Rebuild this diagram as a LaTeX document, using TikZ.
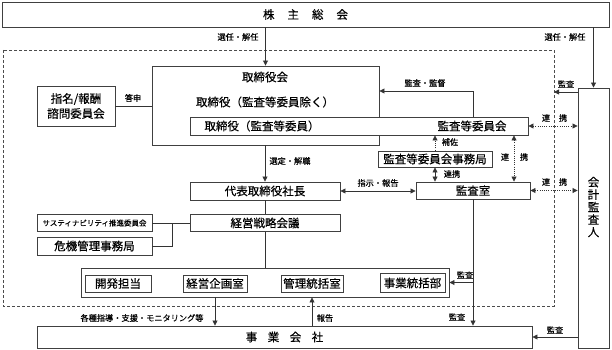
\documentclass[tikz,border=0pt]{standalone}
\usepackage{fontspec}
\setmainfont{Noto Sans CJK JP}[FakeBold=0.4]
\usetikzlibrary{arrows.meta}
\tikzset{
  box/.style={draw=black!75, line width=0.9pt, fill=white, inner sep=0pt,
    font=\fontsize{11.5}{13}\selectfont},
  sz/.style 2 args={minimum width=#1, minimum height=#2},
  txt/.style={inner sep=0pt, font=\fontsize{11.5}{13}\selectfont},
  lbl/.style={inner sep=0pt, font=\fontsize{8.2}{9}\selectfont},
  ln/.style={line width=0.8pt, draw=black!80},
  tip/.tip={Triangle[length=5pt,width=5pt]},
  arr/.style={ln, -tip},
  darr/.style={ln, tip-tip},
  dot/.style={dash pattern=on 1pt off 1.2pt},
}
\begin{document}
\begin{tikzpicture}[x=1pt,y=-1pt]
\useasboundingbox (0,0) rectangle (612,350);
% dashed frame
\draw[black!70, line width=0.7pt, dash pattern=on 3pt off 2pt] (3,50) rectangle (554,306);

% boxes
\node[box, sz={607}{25}] (kabu) at (305.5,14.5) {株\hspace{13pt}主\hspace{13pt}総\hspace{13pt}会};
\node[box, sz={227}{79}] (tori) at (265.5,105.5) {};
\node[box, sz={338}{18}] (inner) at (359,126) {};
\node[txt] (t1) at (265,77) {取締役会};
\node[txt] (t2) at (265,102) {取締役（監査等委員除く）};
\node[txt] (t3) at (262,126) {取締役（監査等委員）};
\node[txt] (t4) at (472,126) {監査等委員会};
\node[box, sz={78}{40}, align=center, font=\fontsize{11.5}{15}\selectfont] (shimei) at (76,106) {指名/報酬\\諮問委員会};
\node[box, sz={31}{260}] (kaikei) at (593.5,218) {};
\node[txt, align=center, font=\fontsize{11.5}{12.5}\selectfont] (kt) at (593.5,207) {会\\計\\監\\査\\人};
\node[box, sz={114}{16}] (jimu) at (435,159) {監査等委員会事務局};
\node[box, sz={150}{18}] (daihyo) at (265,191) {代表取締役社長};
\node[box, sz={114}{17}] (kansa) at (473,190.5) {監査室};
\node[box, sz={150}{17}] (keiei) at (265,223) {経営戦略会議};
\node[box, sz={115}{17}, font=\fontsize{7.5}{8}\selectfont] (sus) at (94.5,223) {サスティナビリティ推進委員会};
\node[box, sz={115}{18}] (kiki) at (94.5,246) {危機管理事務局};
\node[box, sz={368}{29}] (cont) at (265,282.5) {};
\node[box, sz={66}{17}] (kaihatsu) at (118,283.5) {開発担当};
\node[box, sz={64}{17}] (kikaku) at (215,283.5) {経営企画室};
\node[box, sz={62}{17}] (kanri) at (312,283.5) {管理統括室};
\node[box, sz={65}{19}] (jtokatsu) at (412.5,283) {事業統括部};
\node[box, sz={495}{22}] (jigyo) at (284.5,337) {事\hspace{10.5pt}業\hspace{10.5pt}会\hspace{10.5pt}社};

% connectors
\draw[arr] (tori.north |- kabu.south) -- (tori.north);
\node[lbl] (l1) at (238,37) {選任・解任};
\draw[arr] (kaikei.north |- kabu.south) -- (kaikei.north);
\node[lbl] (l2) at (565,37) {選任・解任};

\draw[arr] (inner.north -| kansa.north) |- ([yshift=14.5pt]tori.east);
\node[lbl] (l3) at (425,83) {監査・監督};

\draw[ln] (shimei.east) -- (shimei.east -| tori.west);
\node[lbl] (l4) at (133,98) {答申};

\coordinate (dr1) at (554,92);
\draw[arr] (kaikei.west |- dr1) -- (dr1);
\node[lbl] (l5) at (566,84) {監査};

\draw[darr, dot] (inner.east) -- (inner.east -| kaikei.west);
\node[lbl] (l6a) at (546,118) {連};
\node[lbl] (l6b) at (563,118) {携};
\draw[darr, dot] (kansa.east) -- (kansa.east -| kaikei.west);
\node[lbl] (l7a) at (546,182) {連};
\node[lbl] (l7b) at (563,182) {携};

\draw[arr, dot] (jimu.north) -- (jimu.north |- inner.south);
\node[lbl] (l8) at (450,142) {補佐};
\draw[darr] (jimu.south) -- (jimu.south |- kansa.north);
\node[lbl] (l9) at (452,174) {連携};

\coordinate (vx) at (514,0);
\draw[darr, dot] (inner.south -| vx) -- (kansa.north -| vx);
\node[lbl] (l10a) at (505,157) {連};
\node[lbl] (l10b) at (524,157) {携};

\draw[arr] (tori.south -| daihyo.north) -- (daihyo.north);
\node[lbl] (l11) at (290,161) {選定・解職};

\draw[darr] (daihyo.east) -- (daihyo.east -| kansa.west);
\node[lbl] (l12) at (378,183) {指示・報告};

\draw[ln] (daihyo.south) -- (keiei.north);
\draw[ln] (sus.east) -- (sus.east -| keiei.west);
\draw[ln] (kiki.east) -| ([xshift=20pt]sus.east);
\draw[ln] (keiei.south) -- (keiei.south |- cont.north);

\draw[arr] (cont.south -| kikaku.south) -- (kikaku.south |- jigyo.north);
\node[lbl] (l13) at (142,318) {各種指導・支援・モニタリング等};
\draw[arr] (kanri.south |- jigyo.north) -- (kanri.south |- cont.south);
\node[lbl] (l14) at (325,318) {報告};

\draw[arr] (kansa.south) -- (kansa.south |- jigyo.north);
\node[lbl] (l15) at (457,317) {監査};
\draw[arr] (kansa.south |- cont.east) -- (cont.east);
\node[lbl] (l16) at (465,275) {監査};

\draw[arr] (kaikei.west |- jigyo.east) -- (jigyo.east);
\node[lbl] (l17) at (555,330) {監査};
\end{tikzpicture}
\end{document}
